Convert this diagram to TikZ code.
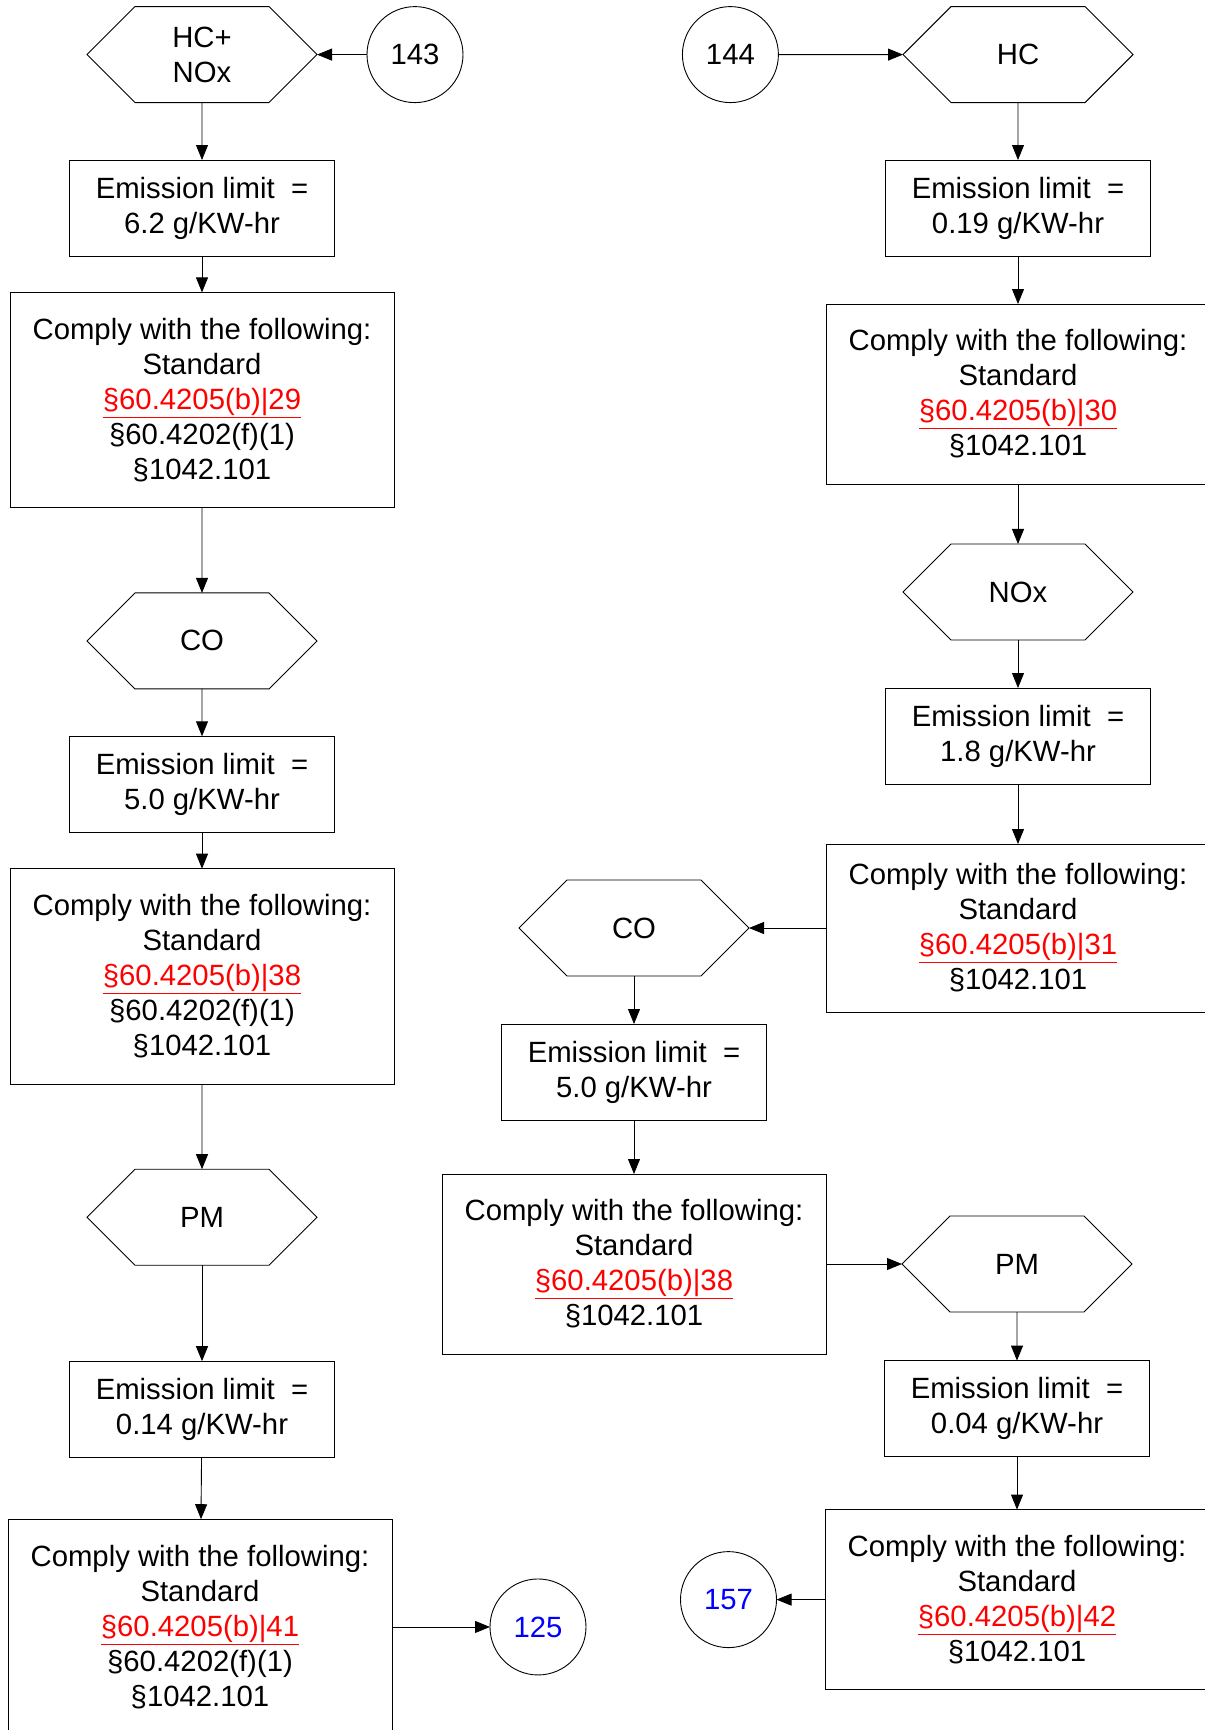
\documentclass[tikz,border=0pt]{standalone}
\usepackage{fontspec}
\setmainfont{Liberation Sans}
\usepackage{xcolor}
\usetikzlibrary{arrows.meta,positioning,shapes.symbols}
\newcommand{\stdref}[1]{\textcolor{red}{\underline{#1}}}

\begin{document}
\begin{tikzpicture}[x=1pt, y=-1pt, >={Triangle[length=15pt,width=12pt]}, line width=0.9pt,
  every node/.style={font=\fontsize{29.3}{35}\selectfont, align=center, outer sep=0pt},
  gas/.style={draw, signal, signal to=west and east, signal pointer angle=90, minimum width=230pt, minimum height=96pt, inner sep=0pt},
  limit/.style={draw, rectangle, minimum width=265pt, minimum height=96pt},
  comply/.style={draw, rectangle, minimum width=384pt, minimum height=#1},
  comply/.default=180pt,
  link/.style={draw, circle, minimum size=96pt, inner sep=0pt}]
\useasboundingbox (0,0) rectangle (1205,1730);
% left column
\node[gas] (hcnox) at (202,54.6) {HC+\\NOx};
\node[link, right=50pt of hcnox] (c143) {143};
\node[limit, below=57.4pt of hcnox] (lim1) {Emission limit\ \ =\\6.2 g/KW-hr};
\node[comply=215.5pt, below=36.4pt of lim1] (std1) {Comply with the following:\\Standard\\\stdref{§60.4205(b)|29}\\§60.4202(f)(1)\\§1042.101};
\node[gas, below=85pt of std1] (co1) {CO};
\node[limit, below=47.4pt of co1] (lim2) {Emission limit\ \ =\\5.0 g/KW-hr};
\node[comply=215.5pt, below=36.4pt of lim2] (std2) {Comply with the following:\\Standard\\\stdref{§60.4205(b)|38}\\§60.4202(f)(1)\\§1042.101};
\node[gas, below=85pt of std2] (pm1) {PM};
\node[limit, below=96pt of pm1] (lim3) {Emission limit\ \ =\\0.14 g/KW-hr};
\node[comply=215.5pt, below=62pt of lim3, xshift=-2pt] (std3) {Comply with the following:\\Standard\\\stdref{§60.4205(b)|41}\\§60.4202(f)(1)\\§1042.101};
\node[link, right=98pt of std3] (c125) {\textcolor{blue}{125}};
% right column
\node[gas] (hc) at (1018,54.6) {HC};
\node[link, left=124.6pt of hc] (c144) {144};
\node[limit, below=57.4pt of hc] (lim4) {Emission limit\ \ =\\0.19 g/KW-hr};
\node[comply, below=48pt of lim4] (std4) {Comply with the following:\\Standard\\\stdref{§60.4205(b)|30}\\§1042.101};
\node[gas, below=60pt of std4] (nox) {NOx};
\node[limit, below=48pt of nox] (lim5) {Emission limit\ \ =\\1.8 g/KW-hr};
\node[comply=168pt, below=60pt of lim5] (std5) {Comply with the following:\\Standard\\\stdref{§60.4205(b)|31}\\§1042.101};
\node[gas, left=77pt of std5] (co2) {CO};
\node[limit, below=48pt of co2] (lim6) {Emission limit\ \ =\\5.0 g/KW-hr};
\node[comply, below=54pt of lim6] (std6) {Comply with the following:\\Standard\\\stdref{§60.4205(b)|38}\\§1042.101};
\node[gas, right=76pt of std6] (pm2) {PM};
\node[limit, below=48.6pt of pm2] (lim7) {Emission limit\ \ =\\0.04 g/KW-hr};
\node[comply, below=53pt of lim7] (std7) {Comply with the following:\\Standard\\\stdref{§60.4205(b)|42}\\§1042.101};
\node[link, left=48.5pt of std7] (c157) {\textcolor{blue}{157}};
% connectors
\draw[->] (c143) -- (hcnox);
\draw[->] (hcnox) -- (lim1);
\draw[->] (lim1) -- (std1);
\draw[->] (std1) -- (co1);
\draw[->] (co1) -- (lim2);
\draw[->] (lim2) -- (std2);
\draw[->] (std2) -- (pm1);
\draw[->] (pm1) -- (lim3);
\draw[->] (lim3) -- (std3);
\draw[->] (std3) -- (c125);
\draw[->] (c144) -- (hc);
\draw[->] (hc) -- (lim4);
\draw[->] (lim4) -- (std4);
\draw[->] (std4) -- (nox);
\draw[->] (nox) -- (lim5);
\draw[->] (lim5) -- (std5);
\draw[->] (std5) -- (co2);
\draw[->] (co2) -- (lim6);
\draw[->] (lim6) -- (std6);
\draw[->] (std6) -- (pm2);
\draw[->] (pm2) -- (lim7);
\draw[->] (lim7) -- (std7);
\draw[->] (std7) -- (c157);
\end{tikzpicture}
\end{document}
